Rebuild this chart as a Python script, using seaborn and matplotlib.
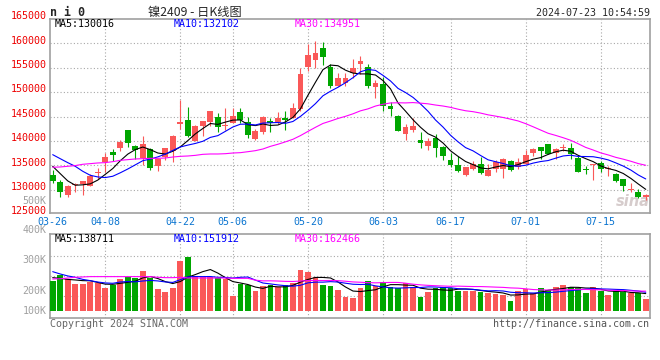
import numpy as np
import pandas as pd
import matplotlib
matplotlib.use("Agg")
import matplotlib.pyplot as plt
import matplotlib.transforms as mtransforms
import seaborn as sns

# ni2409 daily bars, 2024-03-26 .. 2024-07-23
opens = [132990, 131630, 128910, 130950, 131155, 130815, 133400, 135715, 137690, 138500,
         142175, 138910, 136600, 138300, 134900, 136665, 138025, 143535, 144220, 139930,
         143060, 143875, 144965, 143060, 143740, 145850, 143810, 140410, 141770, 144080,
         143875, 144760, 144760, 146530, 155100, 156530, 159115, 155100, 151360, 151975,
         154015, 155715, 155235, 151020, 151700, 147280, 145035, 141360, 142175, 140135,
         138980, 140610, 138775, 136055, 135035, 132990, 134350, 135235, 132855, 134350,
         134350, 135850, 134690, 135375, 137550, 138705, 139320, 137620, 138570, 138570,
         136600, 134285, 135035, 135510, 134215, 133200, 132175, 129930, 129590, 128640]
highs = [134010, 131970, 130950, 131430, 131770, 133200, 134490, 137620, 138435, 140130,
         142310, 139115, 140950, 138640, 136395, 138640, 141290, 148500, 147005, 143330,
         144080, 146055, 145715, 146670, 146800, 146800, 144900, 142450, 145035, 144690,
         145850, 146120, 147750, 154965, 159860, 160545, 160205, 155785, 153945, 154015,
         156870, 157415, 155785, 152585, 153060, 148095, 145240, 143400, 144760, 141770,
         140680, 141360, 138980, 137620, 136870, 134690, 135920, 136735, 135235, 136055,
         136530, 136055, 136600, 138095, 138570, 138705, 139460, 138570, 139390, 139590,
         137075, 134965, 135235, 135850, 134830, 133470, 132310, 131430, 130270, 129250]
lows = [131430, 128570, 128570, 129590, 129045, 130815, 132310, 133670, 135850, 137890,
        138775, 136325, 135035, 134010, 133875, 136190, 135715, 142380, 140815, 139930,
        140950, 143130, 141835, 142175, 143740, 143740, 140680, 140135, 141495, 141835,
        143535, 142310, 144760, 146055, 154285, 154965, 155580, 150815, 151360, 151360,
        152995, 153670, 150815, 148775, 146055, 145035, 142040, 140135, 141835, 138570,
        138095, 136735, 136055, 134690, 133670, 132790, 134150, 133330, 132855, 133670,
        132450, 133875, 134285, 135235, 136940, 136260, 137275, 136395, 137955, 136260,
        133670, 133330, 131970, 133670, 132855, 131630, 129795, 129590, 128365, 127895]
closes = [131830, 129590, 130815, 131155, 131770, 132790, 133470, 136665, 137140, 139725,
          139590, 138095, 139320, 134490, 136260, 138500, 140950, 143810, 140950, 143130,
          144015, 146055, 142925, 143265, 145170, 144220, 141155, 142040, 144900, 143675,
          144625, 144350, 146670, 153670, 157550, 157960, 157280, 151360, 152995, 152995,
          154965, 156460, 151360, 151835, 147280, 146530, 142040, 142925, 142995, 139590,
          139930, 138570, 136870, 135035, 133875, 134690, 135375, 133470, 134150, 135715,
          136260, 134150, 135650, 137075, 138300, 137890, 137415, 138300, 138705, 137275,
          133670, 134010, 135235, 134350, 134555, 131835, 130815, 130270, 128570, 129045]
# volume in thousands
volumes = [261, 313, 276, 235, 235, 255, 241, 203, 226, 278,
           299, 287, 351, 284, 191, 165, 203, 438, 473, 305,
           293, 293, 284, 276, 133, 232, 226, 174, 218, 226,
           206, 226, 241, 357, 342, 293, 226, 218, 183, 125,
           116, 203, 261, 218, 252, 212, 203, 241, 212, 125,
           168, 197, 212, 197, 174, 177, 177, 168, 154, 145,
           139, 87, 174, 189, 154, 203, 183, 212, 226, 209,
           197, 154, 209, 174, 139, 177, 162, 154, 160, 104]

# moving-average values before enough bars exist
ma5_head = [134830, 133330, 131840, 130950]
ma10_head = [137210, 136390, 135580, 134830, 133810, 132990, 132650, 132520, 132790]
ma30_head = [134630, 134690, 134830, 134970, 135240, 135370, 135510, 135580, 135780, 136050,
             136190, 136330, 136390, 136460, 136460, 136530, 136730, 136870, 136940, 137070,
             137280, 137350, 137350, 137410, 137550, 137620, 137820, 138030, 138370]
vma5_head = [290, 284, 275, 270]
vma10_head = [342, 322, 305, 293, 275, 264, 252, 244, 241]
vma30_head = [278, 281, 287, 293, 296, 299, 299, 299, 299, 299,
              299, 299, 299, 299, 293, 290, 290, 293, 287, 287,
              287, 287, 287, 287, 284, 284, 284, 268, 262]

holidays = ["2024-04-04", "2024-04-05", "2024-05-01", "2024-05-02", "2024-05-03", "2024-06-10"]
date_labels = ["03-26", "04-08", "04-22", "05-06", "05-20", "06-03", "06-17", "07-01", "07-15"]
price_ticks = [125000, 130000, 135000, 140000, 145000, 150000, 155000, 160000, 165000]
vol_tick_vals = [960, 705, 444, 174, 0]
vol_tick_text = ["500K", "400K", "300K", "200K", "100K"]
legend_price = ["MA5:130016", "MA10:132102", "MA30:134951"]
legend_vol = ["MA5:138711", "MA10:151912", "MA30:162466"]

RED = "#fa5858"
GREEN = "#00a600"
GRID = "#a8a8a8"
BORDER = "#a0a0a0"
MA_COLORS = ["black", "#0000ff", "#ff00ff"]

days = pd.bdate_range("2024-03-26", "2024-07-23")
days = days[~days.isin(pd.to_datetime(holidays))]
day_str = days.strftime("%m-%d")
x = np.arange(len(days))

o = np.array(opens); h = np.array(highs); l = np.array(lows); c = np.array(closes)
v = np.array(volumes, dtype=float)
up = c >= o
colors = np.where(up, RED, GREEN)


def moving_avg(vals, n, head):
    out = pd.Series(vals, dtype=float).rolling(n).mean().to_numpy()
    out[:n - 1] = head
    return out


price_ma = [moving_avg(c, 5, ma5_head), moving_avg(c, 10, ma10_head), moving_avg(c, 30, ma30_head)]
vol_ma = [moving_avg(v, 5, vma5_head), moving_avg(v, 10, vma10_head), moving_avg(v, 30, vma30_head)]

sns.set_theme(style="white")
plt.rcParams["font.family"] = ["DejaVu Sans Mono", "Noto Sans CJK SC"]
plt.rcParams["font.size"] = 7.2

W, H = 660, 360
fig = plt.figure(figsize=(W / 100, H / 100), dpi=100)


def fx(px):
    return px / W


def fy(py):
    return 1 - py / H


ax = fig.add_axes([fx(50), fy(213.3), fx(599.5), (213.3 - 19) / H])
axv = fig.add_axes([fx(50), fy(318.3), fx(599.5), (318.3 - 234.3) / H])

tick_idx = [int(np.where(day_str == d)[0][0]) for d in date_labels]

# ---- price pane ----
ax.vlines(x, l, h, colors=colors, lw=0.8, zorder=3)
body_lo = np.minimum(o, c)
body_h = np.maximum(np.abs(c - o), 190)
ax.bar(x, body_h, bottom=body_lo, width=0.78, color=colors, linewidth=0, zorder=4)
for ma, col in zip(price_ma, MA_COLORS):
    sns.lineplot(x=x, y=ma, color=col, lw=0.8, ax=ax, zorder=5)

ax.set_xlim(-0.36, 79.5)
ax.set_ylim(125200, 165000)
ax.set_yticks(price_ticks[1:-1])
ax.yaxis.grid(True, color=GRID, ls=(0, (1, 2)), lw=0.8)
ax.set_yticklabels([])
ax.tick_params(axis="y", length=0)
ax.set_xticks(tick_idx)
ax.set_xticklabels(date_labels)
ax.tick_params(axis="x", length=0, pad=2.5, labelsize=7.2, labelcolor="#0a74d0")
for lab in ax.get_xticklabels():
    lab.set_fontfamily("DejaVu Sans Mono")

shift = mtransforms.ScaledTranslation(0, 2 / 72, fig.dpi_scale_trans)
for val in price_ticks:
    ax.text(-0.006, val, str(val), transform=ax.get_yaxis_transform() + shift,
            ha="right", va="center", color="#ee0000", fontsize=7.2, clip_on=False)

ax.text(0.972, 0.06, "sina", transform=ax.transAxes, ha="center", va="center",
        fontsize=10.5, fontweight="bold", fontstyle="italic", color="#d6cccc",
        family="DejaVu Sans", zorder=2)

# ---- volume pane ----
direction = np.where(up, "up", "down")
sns.barplot(x=x, y=v, hue=direction, palette={"up": RED, "down": GREEN},
            dodge=False, native_scale=True, width=0.76, saturation=1,
            legend=False, linewidth=0, ax=axv, zorder=3)
for ma, col in zip(vol_ma, MA_COLORS):
    sns.lineplot(x=x, y=ma, color=col, lw=0.8, ax=axv, zorder=5)

axv.set_xlim(-0.36, 79.5)
axv.set_ylim(-63.5, 667)
axv.set_yticks([133, 307, 481])
axv.yaxis.grid(True, color=GRID, ls=(0, (1, 2)), lw=0.8)
axv.set_yticklabels([])
axv.set_xticks([])
axv.set_xlabel("")
axv.set_ylabel("")
axv.tick_params(length=0)
for val, txt in zip(vol_tick_vals, vol_tick_text):
    axv.text(-0.006, val, txt, transform=axv.get_yaxis_transform(),
             ha="right", va="center", color="#a0a0a0", fontsize=7.2, clip_on=False)

for a in (ax, axv):
    for i in tick_idx[1:]:
        a.axvline(i, color=GRID, ls=(0, (1, 2)), lw=0.8, zorder=0)
    for s in a.spines.values():
        s.set_color(BORDER)
        s.set_linewidth(1.2)
    a.set_axisbelow(True)

# ---- texts ----
fig.text(fx(50), fy(12.5), "n i 0", fontsize=8.4, fontweight="bold", va="center", ha="left")
fig.text(fx(195), fy(12.5), "镍2409 - 日K线图", fontsize=8.8, va="center", ha="center",
         family=["Noto Sans CJK SC", "DejaVu Sans"])
fig.text(fx(649.5), fy(12.5), "2024-07-23 10:54:59", va="center", ha="right")

for (txt, col, px) in zip(legend_price, MA_COLORS, [55, 174, 295]):
    fig.text(fx(px), fy(24), txt, color=col, va="center", ha="left")
for (txt, col, px) in zip(legend_vol, MA_COLORS, [54.5, 174, 294.5]):
    fig.text(fx(px), fy(238.5), txt, color=col, va="center", ha="left")

fig.text(fx(50), fy(324), "Copyright 2024 SINA.COM", color="#666666", va="center", ha="left")
fig.text(fx(649.5), fy(324), "http://finance.sina.com.cn", color="#555555", va="center", ha="right")

fig.savefig("out.png", dpi=100, facecolor="white")
